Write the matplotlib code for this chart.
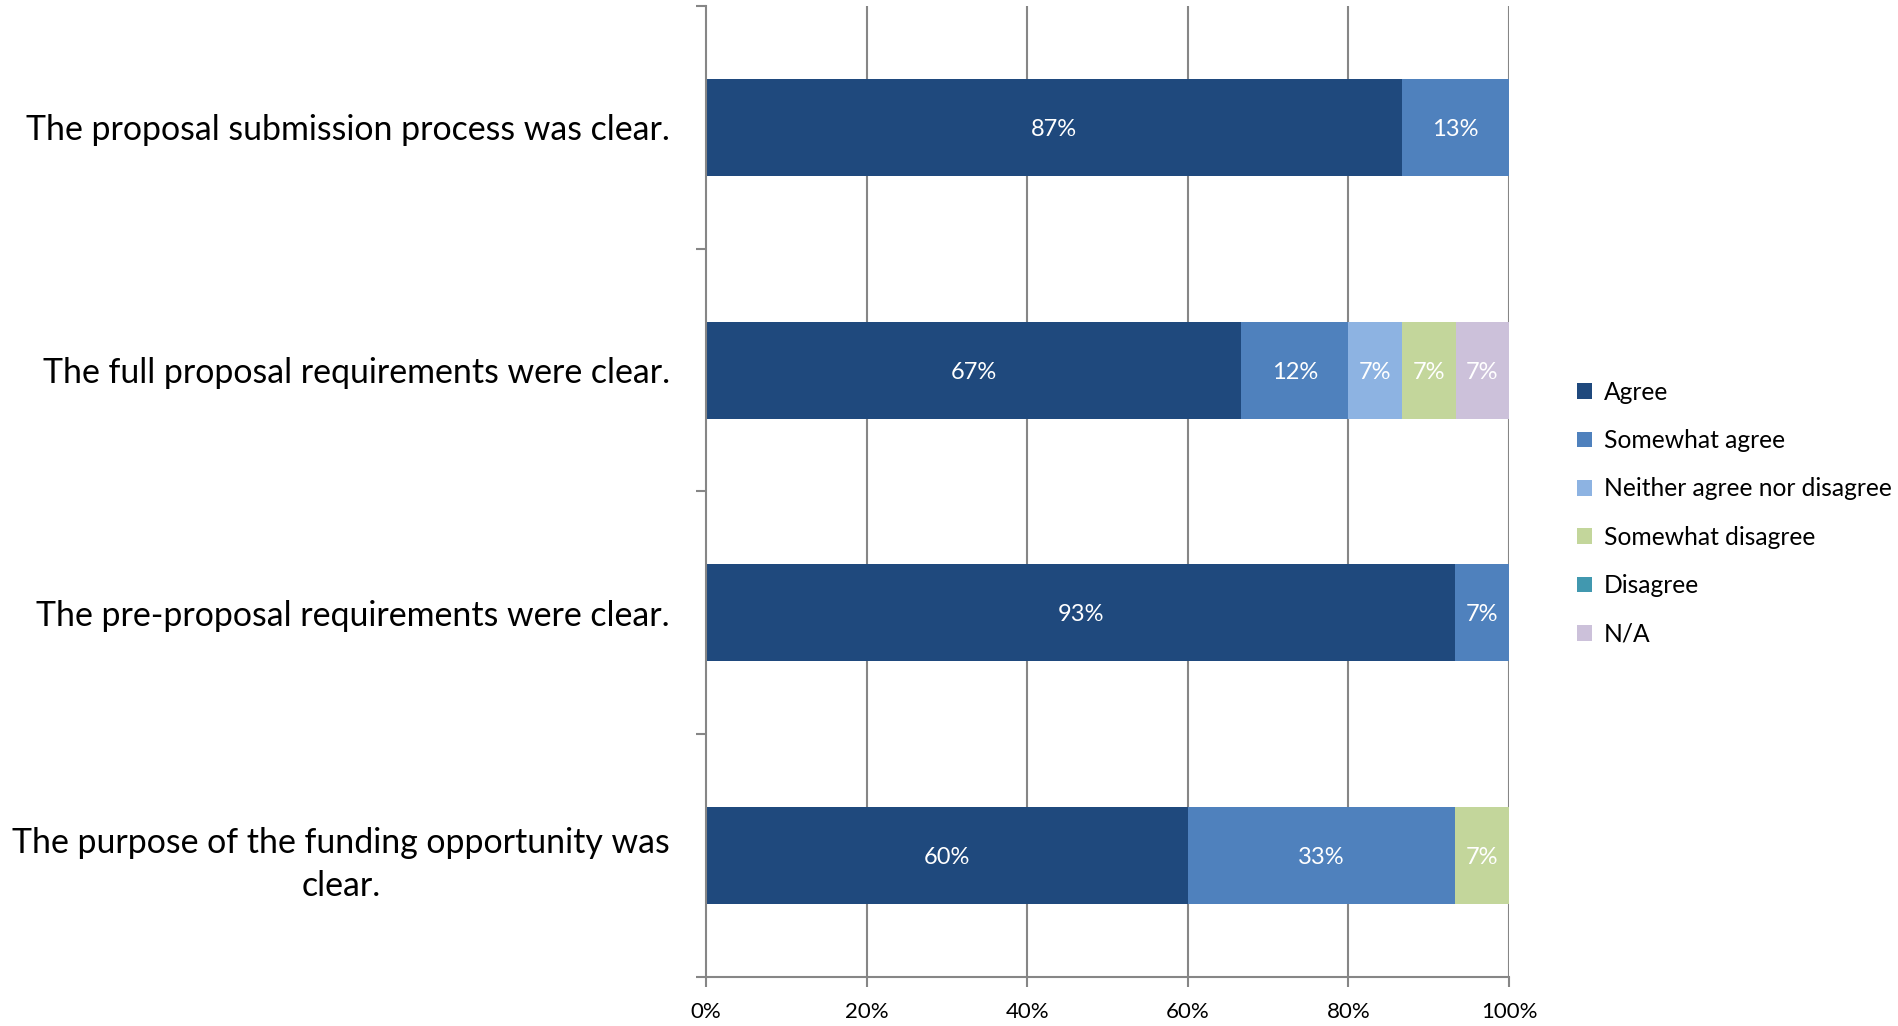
import matplotlib
matplotlib.use("Agg")
import matplotlib.pyplot as plt
from matplotlib.patches import Patch

plt.rcParams['font.family'] = ['Lato', 'DejaVu Sans']

statements = [
    "The proposal submission process was clear.",
    "The full proposal requirements were clear.",
    "The pre-proposal requirements were clear.",
    "The purpose of the funding opportunity was\nclear.",
]
responses = ["Agree", "Somewhat agree", "Neither agree nor disagree",
             "Somewhat disagree", "Disagree", "N/A"]
colors = ["#1F497D", "#4F81BD", "#8DB3E2", "#C3D69B", "#4198AF", "#CCC1DA"]

# share of answers per statement, in the order of responses
shares = [
    [86.67, 13.33, 0, 0, 0, 0],
    [66.67, 13.33, 6.67, 6.67, 0, 6.67],
    [93.33, 6.67, 0, 0, 0, 0],
    [60.0, 33.33, 0, 6.67, 0, 0],
]
# labels as printed on the bars
bar_labels = [
    ["87%", "13%", "", "", "", ""],
    ["67%", "12%", "7%", "7%", "", "7%"],
    ["93%", "7%", "", "", "", ""],
    ["60%", "33%", "", "7%", "", ""],
]

fig = plt.figure(figsize=(18.99, 10.26), dpi=100)
ax = fig.add_axes([706 / 1899, 49 / 1026, 803 / 1899, 971 / 1026])

grid_col = "#868686"
for x in range(20, 101, 20):
    ax.axvline(x, color=grid_col, lw=1.5, zorder=0)

for i, row in enumerate(shares):
    left = 0
    for j, v in enumerate(row):
        if v > 0:
            ax.barh(i, v, left=left, height=0.4, color=colors[j], zorder=2)
            if bar_labels[i][j]:
                ax.text(left + v / 2, i, bar_labels[i][j], color="white",
                        ha="center", va="center_baseline", fontsize=17, zorder=3)
        left += v

ax.set_xlim(0, 100)
ax.set_ylim(3.5, -0.5)
ax.set_xticks(range(0, 101, 20))
ax.set_xticklabels([f"{x}%" for x in range(0, 101, 20)], fontsize=16)
ax.set_yticks(range(len(statements)))
ax.set_yticklabels(statements, fontsize=24.4)
for lbl in ax.get_yticklabels():
    lbl.set_multialignment("center")
    lbl.set_linespacing(1.45)
ax.set_yticks([-0.5, 0.5, 1.5, 2.5, 3.5], minor=True)
ax.tick_params(axis="y", which="major", length=0, pad=26)
ax.tick_params(axis="y", which="minor", length=7, width=1.5, color=grid_col)
ax.tick_params(axis="x", length=7, width=1.5, color=grid_col, pad=11)

for s in ["top", "right"]:
    ax.spines[s].set_visible(False)
for s in ["left", "bottom"]:
    ax.spines[s].set_color(grid_col)
    ax.spines[s].set_linewidth(1.5)

handles = [Patch(facecolor=c, label=r) for c, r in zip(colors, responses)]
fig.legend(handles=handles, loc="upper left", bbox_to_anchor=(1567 / 1899, 1 - 371 / 1026),
           frameon=False, fontsize=17.7, handlelength=0.6, handleheight=0.6,
           handletextpad=0.5, labelspacing=1.03, borderaxespad=0)

fig.savefig("out.png", dpi=100)
